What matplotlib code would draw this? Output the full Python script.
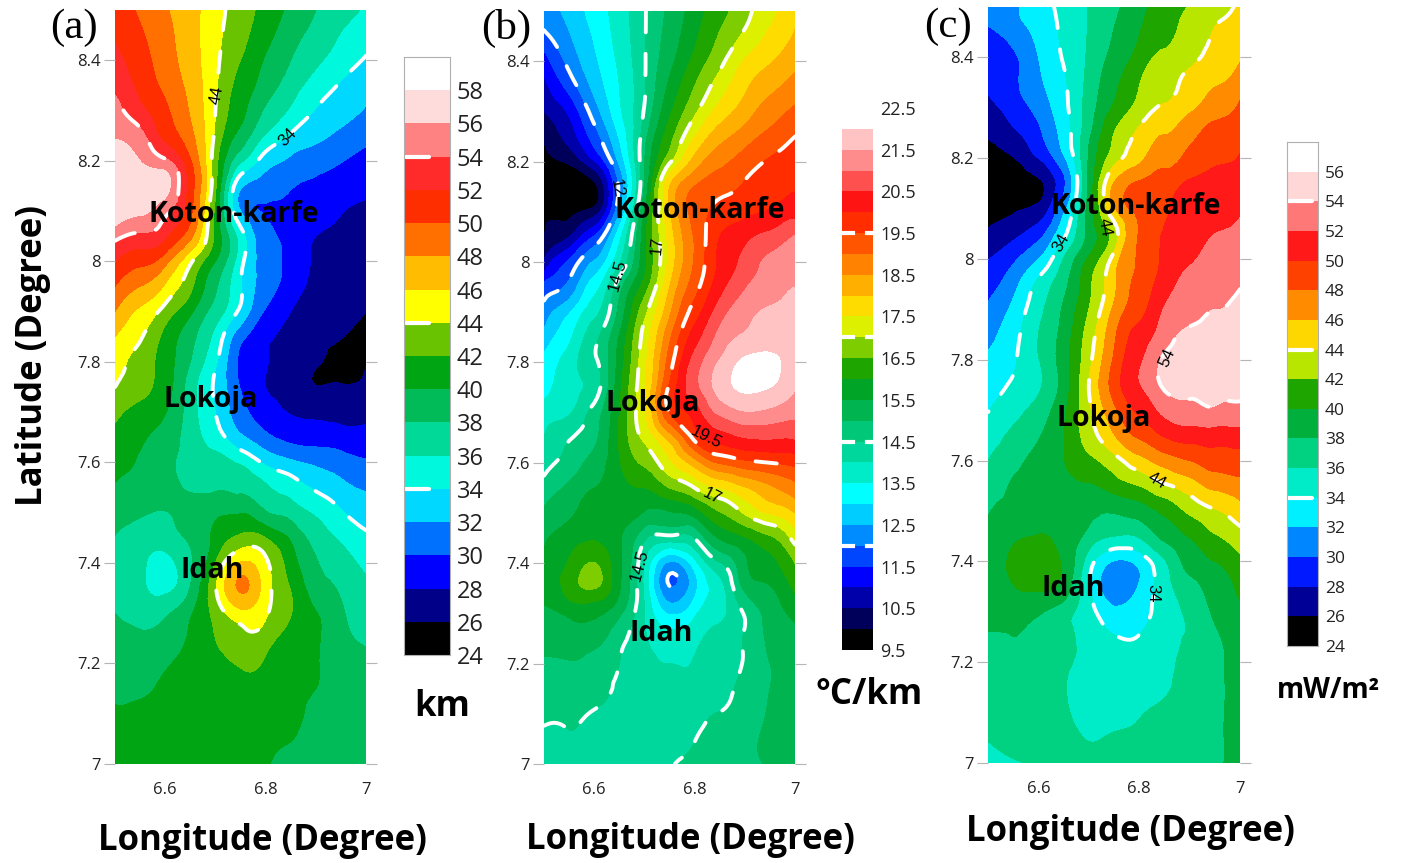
#!/usr/bin/env python

"""
Curie depth, geothermal gradient and heat flow maps around Lokoja / Idah
"""

import numpy as np
import matplotlib
matplotlib.use("Agg")
import matplotlib.pyplot as plt
import matplotlib.tri as mtri
from matplotlib.colors import ListedColormap, BoundaryNorm

W, H = 1407, 863

lon = [6.5, 6.55, 6.6, 6.65, 6.7, 6.75, 6.8, 6.85, 6.9, 6.95, 7.0]
lat = [8.5, 8.45, 8.4, 8.35, 8.3, 8.25, 8.2, 8.15, 8.1, 8.05, 8.0, 7.95, 7.9,
       7.85, 7.8, 7.75, 7.7, 7.65, 7.6, 7.55, 7.5, 7.45, 7.4, 7.35, 7.3, 7.25,
       7.2, 7.15, 7.1, 7.05, 7.0]

# values, top row is 8.5N
depth = [
    [51.2, 49.7, 48.2, 46.6, 44.9, 43.0, 41.2, 39.5, 38.0, 36.8, 35.7],
    [51.8, 50.3, 48.6, 46.7, 44.7, 42.6, 40.6, 38.8, 37.4, 35.9, 34.8],
    [52.5, 50.9, 48.9, 46.9, 44.5, 42.0, 39.8, 38.0, 36.4, 35.0, 33.8],
    [53.5, 51.5, 49.5, 47.3, 44.3, 41.3, 39.0, 37.0, 35.2, 33.8, 32.7],
    [54.8, 52.6, 50.3, 47.8, 44.0, 40.6, 37.7, 35.7, 33.9, 32.9, 31.8],
    [55.8, 54.6, 51.3, 48.6, 43.6, 39.3, 35.8, 33.8, 32.6, 31.5, 30.6],
    [57.0, 56.0, 54.4, 50.2, 42.8, 36.4, 33.0, 31.6, 30.8, 30.1, 29.3],
    [57.4, 57.0, 56.8, 51.0, 42.4, 32.4, 30.9, 30.2, 29.6, 29.0, 28.5],
    [57.3, 56.4, 54.6, 50.5, 41.5, 32.0, 29.9, 29.2, 28.6, 28.1, 27.6],
    [54.6, 53.5, 52.3, 48.6, 41.5, 35.0, 30.6, 29.1, 28.0, 27.6, 27.1],
    [52.0, 50.6, 48.7, 44.4, 40.0, 34.7, 31.2, 29.2, 27.8, 27.3, 26.9],
    [50.0, 48.0, 45.7, 42.5, 38.3, 34.2, 30.9, 28.9, 27.7, 27.2, 26.6],
    [48.0, 45.6, 43.2, 40.4, 37.1, 33.5, 29.8, 28.0, 27.3, 26.7, 26.0],
    [46.0, 44.2, 41.4, 38.7, 35.4, 30.7, 28.3, 27.5, 26.8, 26.1, 25.2],
    [45.1, 43.2, 41.0, 38.0, 34.3, 29.6, 28.1, 27.4, 26.2, 25.2, 25.9],
    [44.0, 42.7, 40.9, 37.0, 33.7, 29.9, 28.0, 27.3, 26.05, 26.2, 26.5],
    [42.7, 41.3, 40.1, 37.0, 34.0, 30.7, 28.9, 27.9, 27.5, 27.3, 27.4],
    [41.2, 40.3, 39.1, 37.1, 34.9, 32.4, 30.5, 29.4, 29.1, 28.9, 28.8],
    [40.7, 39.8, 38.5, 37.5, 36.7, 35.7, 33.6, 32.4, 31.6, 30.9, 30.2],
    [39.8, 39.4, 38.7, 37.8, 37.7, 37.5, 36.3, 35.1, 33.7, 32.6, 31.8],
    [38.9, 38.3, 37.9, 39.0, 39.5, 39.9, 38.2, 37.2, 35.7, 34.2, 33.0],
    [37.9, 37.0, 36.8, 38.4, 40.6, 42.5, 42.0, 39.7, 37.2, 35.7, 34.4],
    [37.2, 36.4, 35.4, 37.7, 42.0, 46.2, 44.4, 41.0, 38.2, 36.9, 35.5],
    [37.0, 36.5, 35.4, 38.1, 43.8, 48.3, 45.0, 41.9, 39.0, 37.7, 36.5],
    [38.0, 37.3, 37.7, 39.7, 42.7, 45.3, 44.3, 42.1, 40.1, 38.3, 37.0],
    [38.7, 38.3, 38.7, 40.3, 42.0, 43.3, 42.9, 41.2, 40.2, 38.6, 37.8],
    [39.1, 38.8, 39.7, 40.7, 41.3, 42.2, 41.7, 40.9, 40.1, 39.0, 38.3],
    [39.6, 39.6, 40.4, 40.8, 41.0, 41.3, 41.1, 40.6, 40.0, 39.2, 38.6],
    [40.2, 40.4, 40.6, 40.8, 40.9, 41.0, 40.8, 40.4, 39.6, 39.1, 38.7],
    [40.5, 40.6, 40.7, 40.8, 40.8, 40.7, 40.5, 40.05, 39.5, 39.0, 38.7],
    [40.5, 40.6, 40.6, 40.6, 40.6, 40.5, 40.2, 39.7, 39.3, 39.0, 38.7],
]

gradient = [
    [12.2, 12.65, 13.2, 13.75, 14.45, 15.1, 15.75, 16.3, 16.85, 17.35, 17.9],
    [11.9, 12.45, 13.05, 13.7, 14.45, 15.2, 15.9, 16.55, 17.1, 17.6, 18.05],
    [11.25, 12.15, 12.9, 13.6, 14.45, 15.35, 16.15, 16.85, 17.55, 17.95, 18.35],
    [10.85, 11.7, 12.65, 13.5, 14.45, 15.6, 16.5, 17.25, 17.9, 18.35, 18.7],
    [10.5, 11.1, 12.25, 13.4, 14.55, 15.9, 16.9, 17.7, 18.25, 18.75, 19.1],
    [10.05, 10.7, 11.75, 13.05, 14.8, 16.3, 17.5, 18.3, 18.75, 19.15, 19.5],
    [9.75, 10.1, 10.95, 12.6, 14.95, 16.9, 18.2, 18.85, 19.25, 19.55, 19.75],
    [9.3, 9.45, 9.85, 12.1, 15.05, 18.0, 19.02, 19.35, 19.55, 19.7, 19.95],
    [9.8, 9.85, 10.25, 12.45, 15.5, 17.95, 19.2, 19.65, 19.85, 20.05, 20.3],
    [10.0, 10.5, 11.55, 13.35, 15.8, 17.7, 19.05, 20.0, 20.35, 20.65, 21.05],
    [10.6, 11.6, 12.55, 13.95, 15.85, 17.65, 19.05, 20.1, 20.65, 21.1, 21.3],
    [11.7, 12.15, 13.3, 14.8, 16.25, 18.0, 19.3, 20.3, 20.95, 21.25, 21.5],
    [12.2, 12.95, 13.85, 15.15, 16.85, 18.4, 19.75, 20.75, 21.3, 21.6, 21.75],
    [12.65, 13.4, 14.35, 15.55, 17.2, 18.9, 20.25, 21.15, 21.6, 21.85, 21.85],
    [13.15, 13.75, 14.4, 15.7, 17.35, 19.25, 20.7, 21.55, 22.1, 22.1, 21.9],
    [13.3, 13.75, 14.25, 15.85, 17.45, 19.6, 20.8, 21.7, 22.1, 22.0, 21.55],
    [13.75, 13.95, 14.7, 16.0, 17.45, 19.5, 20.2, 21.1, 21.45, 21.35, 21.15],
    [14.0, 14.45, 14.9, 16.05, 17.1, 18.2, 19.65, 20.25, 20.5, 20.55, 20.55],
    [14.3, 14.7, 15.2, 15.95, 16.6, 17.4, 18.25, 19.05, 19.35, 19.5, 19.65],
    [14.7, 15.1, 15.5, 15.8, 16.0, 16.5, 17.0, 17.5, 17.95, 18.4, 18.8],
    [15.1, 15.4, 15.75, 15.7, 15.45, 15.45, 15.7, 16.45, 17.05, 17.55, 18.0],
    [15.45, 15.75, 15.95, 15.55, 14.6, 14.3, 14.5, 15.55, 15.95, 16.4, 17.2],
    [15.55, 16.05, 16.52, 15.6, 14.0, 12.4, 13.3, 14.45, 15.4, 15.85, 16.5],
    [15.65, 16.2, 16.52, 15.55, 13.9, 12.05, 12.85, 13.8, 15.1, 15.45, 16.1],
    [15.45, 15.6, 15.62, 15.1, 14.0, 12.95, 13.4, 13.9, 14.55, 15.2, 15.6],
    [15.25, 15.3, 15.2, 14.65, 14.1, 13.7, 13.85, 14.1, 14.55, 15.1, 15.4],
    [14.9, 14.95, 14.8, 14.5, 14.2, 14.0, 14.05, 14.25, 14.55, 15.0, 15.3],
    [14.75, 14.75, 14.7, 14.42, 14.2, 14.2, 14.2, 14.35, 14.7, 15.0, 15.25],
    [14.6, 14.6, 14.45, 14.3, 14.2, 14.2, 14.3, 14.52, 14.8, 15.03, 15.2],
    [14.4, 14.45, 14.3, 14.25, 14.2, 14.3, 14.48, 14.7, 14.9, 15.05, 15.2],
    [14.3, 14.3, 14.25, 14.2, 14.25, 14.45, 14.6, 14.75, 14.9, 15.03, 15.2],
]

heatflow = [
    [30.6, 31.6, 33.0, 34.5, 36.1, 37.7, 39.3, 40.8, 42.1, 43.3, 44.5],
    [29.7, 31.0, 32.6, 34.3, 36.15, 38.05, 39.9, 41.4, 42.9, 44.1, 45.2],
    [28.7, 29.6, 32.0, 34.15, 36.3, 38.6, 40.8, 42.4, 43.5, 44.6, 45.8],
    [28.3, 29.6, 31.5, 33.7, 36.6, 39.5, 41.9, 43.3, 44.6, 45.8, 47.0],
    [27.5, 28.9, 30.7, 33.4, 36.95, 40.3, 42.7, 44.25, 45.6, 47.0, 48.5],
    [26.3, 27.6, 29.6, 32.8, 37.5, 42.0, 44.4, 45.9, 47.4, 48.8, 49.2],
    [25.0, 25.9, 28.0, 31.7, 38.2, 43.1, 45.5, 47.2, 48.5, 49.5, 50.2],
    [24.5, 24.9, 25.6, 29.6, 38.4, 46.1, 48.3, 49.2, 50.3, 51.0, 51.4],
    [25.1, 25.7, 26.5, 31.4, 38.8, 45.8, 48.5, 49.9, 50.9, 51.4, 51.8],
    [26.3, 27.4, 29.2, 33.5, 38.6, 43.0, 48.1, 50.1, 51.0, 52.0, 52.7],
    [27.9, 29.6, 32.0, 36.05, 40.3, 44.8, 48.1, 50.4, 51.7, 52.8, 53.6],
    [29.1, 31.3, 34.5, 37.4, 41.5, 45.6, 48.6, 51.1, 52.6, 53.5, 53.9],
    [30.4, 32.5, 35.4, 38.3, 42.0, 46.4, 49.3, 52.1, 53.0, 54.0, 54.5],
    [31.3, 33.3, 36.0, 38.8, 42.9, 47.6, 50.7, 53.0, 54.5, 55.0, 55.0],
    [32.4, 33.7, 35.9, 39.1, 43.4, 48.3, 51.7, 54.3, 55.0, 55.2, 55.2],
    [32.9, 34.3, 35.7, 38.9, 44.0, 48.9, 51.9, 54.3, 54.6, 54.6, 54.3],
    [33.9, 35.3, 36.8, 39.6, 43.6, 47.5, 50.3, 52.6, 53.3, 53.7, 53.6],
    [35.1, 36.4, 37.8, 39.9, 43.0, 45.9, 48.4, 50.2, 50.9, 51.0, 51.1],
    [36.0, 37.3, 38.7, 39.9, 41.5, 43.2, 45.3, 46.9, 48.0, 49.0, 49.1],
    [37.2, 38.2, 38.9, 39.3, 39.8, 40.9, 42.0, 43.7, 45.0, 46.5, 47.2],
    [37.8, 38.5, 38.9, 39.1, 38.6, 38.2, 38.9, 40.4, 42.4, 43.8, 45.2],
    [39.1, 39.6, 40.1, 39.3, 37.3, 36.0, 36.2, 38.6, 40.1, 41.8, 43.2],
    [39.1, 40.3, 41.0, 39.7, 35.0, 31.9, 32.7, 35.8, 38.8, 40.0, 41.5],
    [39.3, 39.9, 40.5, 39.2, 34.3, 30.3, 32.2, 35.1, 37.3, 38.9, 40.4],
    [38.4, 38.4, 38.2, 36.9, 34.7, 32.7, 33.2, 34.8, 36.4, 38.3, 39.7],
    [37.9, 38.0, 37.4, 36.5, 35.2, 34.1, 34.1, 35.2, 36.2, 37.7, 39.3],
    [37.6, 37.5, 37.0, 36.3, 35.4, 35.0, 35.0, 35.4, 36.7, 37.6, 39.1],
    [37.3, 37.2, 36.9, 36.1, 35.4, 35.3, 35.3, 35.8, 36.6, 37.6, 39.0],
    [37.0, 37.0, 36.8, 36.2, 35.5, 35.5, 35.8, 36.3, 36.9, 37.7, 38.8],
    [36.1, 36.7, 36.7, 36.5, 35.9, 36.2, 36.5, 36.9, 37.3, 37.8, 38.6],
    [35.4, 35.8, 36.2, 36.5, 36.7, 36.9, 37.0, 37.3, 37.6, 37.9, 38.5],
]

depth_levels = [24 + 2 * i for i in range(19)]
gradient_levels = [9.5 + 0.5 * i for i in range(27)]
heatflow_levels = [24 + 2 * i for i in range(18)]

depth_ticks = depth_levels[:-1]
gradient_ticks = [9.5 + i for i in range(14)]
heatflow_ticks = heatflow_levels[:-1]

depth_colours = ["#000000", "#000088", "#0000ff", "#0070ff", "#00d8ff", "#00f8dc",
                 "#00d998", "#00bb58", "#00a514", "#69c300", "#ffff00", "#ffbc00",
                 "#ff7000", "#ff2e00", "#ff2a2a", "#ff8282", "#ffdcdc", "#ffffff"]
gradient_colours = ["#000000", "#00005a", "#0000aa", "#0000ff", "#0046ff", "#008cff",
                    "#00cdff", "#00ffff", "#00ebc8", "#00d79c", "#00c878", "#00b450",
                    "#00a528", "#1ea500", "#7dcd00", "#dcf000", "#ffdc00", "#ffaf00",
                    "#ff8200", "#ff5500", "#ff2d00", "#ff1414", "#ff5050", "#ff8c8c",
                    "#ffc3c3", "#ffffff"]
heatflow_colours = ["#000000", "#000096", "#0019ff", "#0087ff", "#00f0ff", "#00ebc8",
                    "#00d282", "#00af3c", "#1ea500", "#b9e600", "#ffd700", "#ff8c00",
                    "#ff4100", "#ff1919", "#ff7878", "#ffd7d7", "#ffffff"]

depth_dashes = [34, 44, 54]
gradient_dashes = [12, 14.5, 17, 19.5]
heatflow_dashes = [34, 44, 54]

lat_ticks = [7, 7.2, 7.4, 7.6, 7.8, 8, 8.2, 8.4]
lon_ticks = [6.6, 6.8, 7]

sans = ["Open Sans", "DejaVu Sans"]


def main():

    fig = plt.figure(figsize=(W / 100.0, H / 100.0), dpi=100)

    draw_panel(fig, depth, depth_levels, depth_colours, depth_dashes,
               [115, 10, 366, 764], [404, 57, 450, 655], depth_ticks, 17, 0.55, True)
    draw_panel(fig, gradient, gradient_levels, gradient_colours, gradient_dashes,
               [544, 11, 795, 764], [842, 108, 873, 650], gradient_ticks, 13, 1.0, False)
    draw_panel(fig, heatflow, heatflow_levels, heatflow_colours, heatflow_dashes,
               [988, 7, 1240, 763], [1287, 142, 1318, 646], heatflow_ticks, 12.5, 0.8, True)

    # contour labels, pixel x, pixel y, rotation
    labels = [("44", 217, 95, 80), ("34", 288, 137, 45),
              ("12", 617, 188, -80), ("17", 657, 245, 85), ("14.5", 618, 275, 75),
              ("19.5", 706, 437, -27), ("17", 712, 496, -27), ("14.5", 640, 565, 75),
              ("34", 1061, 243, 60), ("44", 1105, 227, -80), ("54", 1167, 358, 65),
              ("44", 1157, 481, -30), ("34", 1153, 593, -90)]
    for txt, x, y, rot in labels:
        put_text(fig, x, y, txt, 12, rotation=rot, family="Liberation Sans")

    # towns
    towns = [("Koton-karfe", 234, 215), ("Lokoja", 211, 399), ("Idah", 212, 570),
             ("Koton-karfe", 700, 211), ("Lokoja", 653, 403), ("Idah", 661, 633),
             ("Koton-karfe", 1136, 206), ("Lokoja", 1104, 418), ("Idah", 1073, 588)]
    for txt, x, y in towns:
        put_text(fig, x, y, txt, 20.5, weight="bold")

    put_text(fig, 33, 355, "Latitude (Degree)", 25, weight="bold", rotation=90)
    put_text(fig, 262, 841, "Longitude (Degree)", 25, weight="bold")
    put_text(fig, 690, 840, "Longitude (Degree)", 25, weight="bold")
    put_text(fig, 1130, 832, "Longitude (Degree)", 25, weight="bold")

    put_text(fig, 442, 707, "km", 25, weight="bold")
    put_text(fig, 869, 695, "°C/km", 25, weight="bold")
    put_text(fig, 1328, 690, "mW/m²", 20, weight="bold")

    put_text(fig, 74, 28, "(a)", 31, family="Liberation Serif")
    put_text(fig, 506, 28, "(b)", 31, family="Liberation Serif")
    put_text(fig, 948, 27, "(c)", 31, family="Liberation Serif")

    fig.savefig("out.png", dpi=100)


def add_axes_px(fig, box):
    x0, y0, x1, y1 = box
    return fig.add_axes([x0 / W, 1 - y1 / H, (x1 - x0) / W, (y1 - y0) / H])


def put_text(fig, x, y, txt, size, weight="normal", rotation=0, family=None):
    fig.text(x / W, 1 - y / H, txt, fontsize=size, fontweight=weight,
             rotation=rotation, ha="center", va="center",
             family=family if family else sans, zorder=10)


def draw_panel(fig, grid, levels, colours, dashes, box, bar_box, ticks, bar_size,
               dash_end, bar_frame):

    cmap = ListedColormap(colours)
    norm = BoundaryNorm(levels, cmap.N)

    # contour over a refined triangulation so the bands come out round
    xx, yy = np.meshgrid(lon, lat)
    tri = mtri.Triangulation(xx.ravel(), yy.ravel())
    refiner = mtri.UniformTriRefiner(tri)
    fine_tri, fine_z = refiner.refine_field(np.array(grid).ravel(), subdiv=3)

    ax = add_axes_px(fig, box)
    ax.tricontourf(fine_tri, fine_z, levels=levels, cmap=cmap, norm=norm, extend="both")
    lines = ax.tricontour(fine_tri, fine_z, levels=dashes, colors="white",
                          linewidths=2.8, linestyles=[(0, (5.5, 5.5))])
    lines.set_capstyle("round")

    ax.set_xlim(6.5, 7.0)
    ax.set_ylim(7.0, 8.5)
    ax.set_xticks(lon_ticks)
    ax.set_xticklabels(["6.6", "6.8", "7"], fontsize=12, family=sans, color="#222222")
    ax.set_yticks(lat_ticks)
    ax.set_yticklabels(["7", "7.2", "7.4", "7.6", "7.8", "8", "8.2", "8.4"],
                       fontsize=12, family=sans, color="#222222")
    ax.tick_params(axis="x", length=0, pad=13)
    ax.tick_params(axis="y", length=8, width=0.8, color="#b5b5b5", pad=2, right=True)
    for side in ax.spines:
        ax.spines[side].set_visible(False)

    # colour key, one block per class
    cax = add_axes_px(fig, bar_box)
    for i in range(len(colours)):
        cax.barh(levels[i], 1, height=levels[i + 1] - levels[i], align="edge",
                 color=colours[i], linewidth=0)
    for d in dashes:
        if dash_end < 1.0:
            cax.plot([0.04, dash_end], [d, d], color="white", lw=3,
                     solid_capstyle="round")
        else:
            cax.plot([0.0, 0.35], [d, d], color="white", lw=3)
            cax.plot([0.8, 1.0], [d, d], color="white", lw=3)
    cax.set_xlim(0, 1)
    cax.set_ylim(levels[0], levels[-1])
    cax.set_xticks([])
    cax.set_yticks(ticks)
    cax.yaxis.tick_right()
    cax.set_yticklabels([("%g" % t if t != int(t) else "%d" % t) for t in ticks],
                        fontsize=bar_size, family=sans, color="#222222")
    cax.tick_params(axis="y", length=0, pad=5)
    for side in cax.spines:
        cax.spines[side].set_color("#b0b0b0")
        cax.spines[side].set_linewidth(0.8)
        cax.spines[side].set_visible(bar_frame)


if __name__ == "__main__":

    main()
